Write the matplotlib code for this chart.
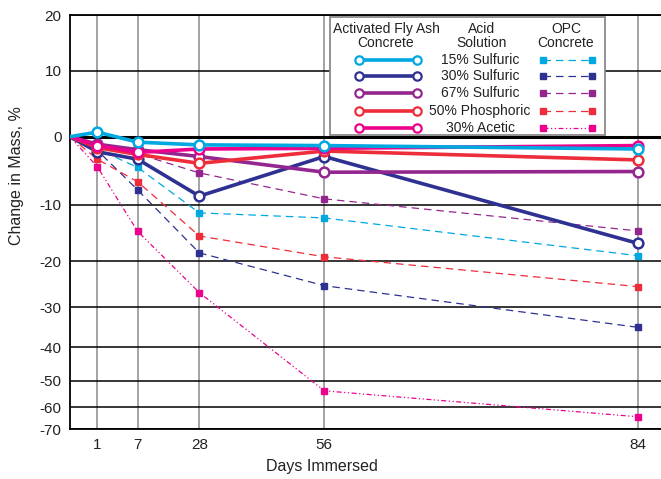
import matplotlib
matplotlib.use("Agg")
import matplotlib.pyplot as plt
from matplotlib import font_manager
from matplotlib.lines import Line2D
from matplotlib.patches import Rectangle
import numpy as np

# fonts: narrow sans if there is one
names = {f.name for f in font_manager.fontManager.ttflist}
NARROW = 'Liberation Sans Narrow' in names
FONT = 'Liberation Sans Narrow' if NARROW else 'Liberation Sans'
FS_TICK = 12 if NARROW else 11
FS_LAB = 12 if NARROW else 11.5
FS_LEG = 12 if NARROW else 10
plt.rcParams['font.family'] = [FONT, 'DejaVu Sans']

# data
days = [0, 1, 7, 28, 56, 84]
acids = ['15% Sulfuric', '30% Sulfuric', '67% Sulfuric', '50% Phosphoric', '30% Acetic']
colors = ['#00a8e1', '#2e3192', '#93278f', '#ee2d3b', '#ec008c']

afa_15s = [0, 0.7, -0.8, -1.2, -1.3, -1.8]
afa_30s = [0, -2.2, -3.3, -8.7, -2.9, -16.8]
afa_67s = [0, -1.1, -1.9, -2.9, -5.2, -5.1]
afa_50p = [0, -1.6, -2.6, -3.9, -2.1, -3.4]
afa_30a = [0, -1.3, -2.3, -1.8, -1.7, -1.3]

opc_15s = [0, -1.8, -4.5, -11.4, -12.3, -19.0]
opc_30s = [0, -2.0, -7.8, -18.5, -25.3, -35.0]
opc_67s = [0, -1.5, -2.5, -5.3, -9.1, -14.6]
opc_50p = [0, -3.3, -6.6, -15.5, -19.2, -25.5]
opc_30a = [0, -4.4, -14.7, -26.8, -53.8, -64.3]

afa = [afa_15s, afa_30s, afa_67s, afa_50p, afa_30a]
opc = [opc_15s, opc_30s, opc_67s, opc_50p, opc_30a]

yticks = [20, 10, 0, -10, -20, -30, -40, -50, -60, -70]
xticks = [1, 7, 28, 56, 84]

# the chart uses an uneven hand-made scale on both axes
W, H = 661, 479
y_v = np.array([-70, -60, -50, -40, -30, -20, -10, 0, 10, 20], float)
y_p = H - np.array([429.3, 407.3, 380.7, 347.3, 307.3, 261.3, 205, 136.7, 71, 15.3])
x_v = np.array([0, 1, 7, 28, 56, 84, 86.1])
x_p = np.array([70, 97.3, 137.7, 199.3, 324.3, 637.7, 661])

def yf(v): return np.interp(v, y_v, y_p)
def yi(p): return np.interp(p, y_p, y_v)
def xf(v): return np.interp(v, x_v, x_p)
def xi(p): return np.interp(p, x_p, x_v)

fig = plt.figure(figsize=(W / 100, H / 100), dpi=100)
ax = fig.add_axes([70 / W, (H - 429.3) / H, (661 - 70) / W, (429.3 - 15.3) / H])
ax.set_xscale('function', functions=(xf, xi))
ax.set_yscale('function', functions=(yf, yi))
ax.set_xlim(0, 86.1)
ax.set_ylim(-70, 20)

for x in xticks:
    ax.axvline(x, color='#8a8a8a', lw=1.1, zorder=1)
for y in yticks:
    ax.axhline(y, color='black', lw=2.2 if y == 0 else 1.1, zorder=1)

dash_styles = [(6, 4), (6, 4), (6, 4), (6, 4), (4, 2, 1, 2, 1, 2)]
for vals, c, d in zip(opc, colors, dash_styles):
    ax.plot(days[1:], vals[1:], ls='none', marker='s', ms=5, color=c, zorder=3)
    ax.plot(days, vals, color=c, lw=0.9, dashes=d, zorder=2)

order = [1, 2, 3, 4, 0]
for i in order:
    ax.plot(days, afa[i], color=colors[i], lw=2.6, zorder=4)
    ax.plot(days[1:], afa[i][1:], ls='none', marker='o', ms=7, mfc='white',
            mec=colors[i], mew=1.8, zorder=5)

ax.set_xticks(xticks)
ax.set_xticklabels([str(x) for x in xticks])
ax.set_yticks(yticks)
ax.set_yticklabels([str(y) for y in yticks])
ax.xaxis.set_minor_locator(plt.NullLocator())
ax.yaxis.set_minor_locator(plt.NullLocator())
ax.tick_params(length=0, labelsize=FS_TICK, colors='#222222', pad=6)
ax.spines['right'].set_visible(False)
for s in ['left', 'bottom', 'top']:
    ax.spines[s].set_linewidth(1.3)

def fx(px): return px / W
def fy(py): return 1 - py / H

fig.text(fx(17), fy(176), 'Change in Mass, %', rotation=90, ha='center', va='center',
         fontsize=FS_LAB, color='#222222')
fig.text(fx(322), fy(467), 'Days Immersed', ha='center', va='center', fontsize=FS_LAB,
         color='#222222')

# legend box drawn by hand
fig.add_artist(Rectangle((fx(330), fy(135)), (605 - 330) / W, (135 - 17) / H,
                         transform=fig.transFigure, fc='white', ec='#808080', lw=1.2,
                         zorder=6))
kw = dict(ha='center', va='center', fontsize=FS_LEG, color='#222222', zorder=7,
          linespacing=0.95)
fig.text(fx(386), fy(36), 'Activated Fly Ash\nConcrete', **kw)
fig.text(fx(482), fy(36), 'Acid\nSolution', **kw)
fig.text(fx(566), fy(36), 'OPC\nConcrete', **kw)
rows = [60, 76, 93, 111, 128]
for name, c, d, ry in zip(acids, colors, dash_styles, rows):
    fig.add_artist(Line2D([fx(359), fx(417)], [fy(ry), fy(ry)], transform=fig.transFigure,
                          color=c, lw=2.6, marker='o', ms=6, mfc='white', mec=c, mew=1.6,
                          zorder=7))
    fig.text(fx(480), fy(ry), name, **kw)
    fig.add_artist(Line2D([fx(543), fx(592)], [fy(ry), fy(ry)], transform=fig.transFigure,
                          color=c, lw=0.9, dashes=d, zorder=7))
    fig.add_artist(Line2D([fx(543), fx(592)], [fy(ry), fy(ry)], transform=fig.transFigure,
                          color=c, ls='none', marker='s', ms=4, zorder=7))

fig.savefig('out.png', dpi=100)
